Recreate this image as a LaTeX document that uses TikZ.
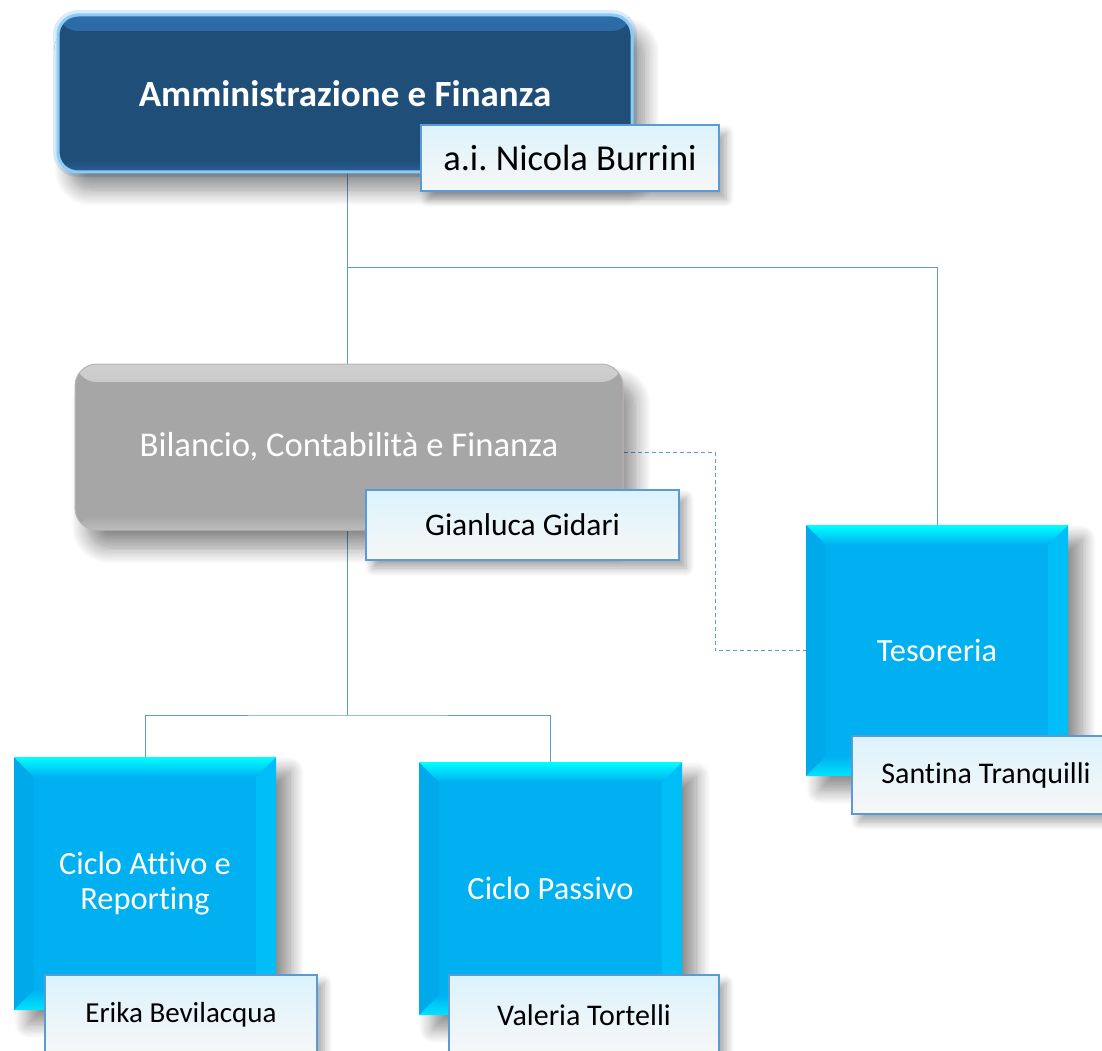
\documentclass[tikz,border=0pt]{standalone}
\usepackage{fontspec}
\setmainfont[Ligatures=NoCommon]{Carlito}
\usetikzlibrary{shadows.blur,backgrounds}
\frenchspacing
\definecolor{cNavy}{HTML}{1F4E79}
\definecolor{cNavyTop}{HTML}{2E6DAA}
\definecolor{cGlow}{HTML}{8CCBF5}
\definecolor{cGray}{HTML}{A6A6A6}
\definecolor{cGrayTop}{HTML}{CFCFCF}
\definecolor{cGrayBot}{HTML}{BDBDBD}
\definecolor{cGrayLine}{HTML}{BDB3B3}
\definecolor{cBlue}{HTML}{00B0F0}
\definecolor{cCyan}{HTML}{00FFFF}
\definecolor{cBlueL}{HTML}{00A9EA}
\definecolor{cBlueR}{HTML}{00BEF8}
\definecolor{cBlueB}{HTML}{00E4FF}
\definecolor{cConn}{HTML}{5B9BD5}
\definecolor{cNameTop}{HTML}{DCF3FC}
\definecolor{cNameBot}{HTML}{F7F7F7}
\begin{document}
\begin{tikzpicture}[x=1pt,y=-1pt,
  conn/.style={draw=cConn,line width=1pt},
  dashconn/.style={conn,dashed,dash pattern=on 4pt off 3pt},
  topbox/.style={rounded corners=20pt,draw=cGlow,line width=3pt,
    preaction={draw=cGlow,line width=10pt,opacity=0.35},
    fill=cNavy,
    path picture={
      \shade[top color=cNavyTop,bottom color=cNavy]
        (path picture bounding box.north west) rectangle ([yshift=-16pt]path picture bounding box.north east);
      \shade[top color=cNavy,bottom color=cNavyTop!60!cNavy]
        ([yshift=12pt]path picture bounding box.south west) rectangle (path picture bounding box.south east);
    },
    blur shadow={shadow xshift=12pt,shadow yshift=-18pt,shadow blur radius=16pt,shadow blur steps=12,shadow opacity=45},
    text=white,font=\fontsize{37}{44}\selectfont\bfseries},
  graybox/.style={rounded corners=22pt,draw=cGrayLine,line width=1pt,
    fill=cGray,
    path picture={
      \shade[top color=cGrayTop,bottom color=cGray]
        (path picture bounding box.north west) rectangle ([yshift=-18pt]path picture bounding box.north east);
      \shade[top color=cGray,bottom color=cGrayBot]
        ([yshift=14pt]path picture bounding box.south west) rectangle (path picture bounding box.south east);
    },
    blur shadow={shadow xshift=12pt,shadow yshift=-18pt,shadow blur radius=16pt,shadow blur steps=12,shadow opacity=45},
    text=white,font=\fontsize{34.7}{40}\selectfont},
  bluebox/.style={fill=cBlue,
    blur shadow={shadow xshift=14pt,shadow yshift=-14pt,shadow blur radius=14pt,shadow blur steps=12,shadow opacity=45},
    text=white,font=\fontsize{32.4}{35}\selectfont,align=center,
    path picture={
      \coordinate (bnw) at (path picture bounding box.north west);
      \coordinate (bne) at (path picture bounding box.north east);
      \coordinate (bsw) at (path picture bounding box.south west);
      \coordinate (bse) at (path picture bounding box.south east);
      \fill[cBlueL] (bnw) -- ([xshift=20pt,yshift=-20pt]bnw) -- ([xshift=20pt,yshift=20pt]bsw) -- (bsw) -- cycle;
      \fill[cBlueR] (bne) -- ([xshift=-20pt,yshift=-20pt]bne) -- ([xshift=-20pt,yshift=20pt]bse) -- (bse) -- cycle;
      \shade[top color=cCyan,bottom color=cBlue] (bnw) -- (bne) -- ([xshift=-20pt,yshift=-20pt]bne) -- ([xshift=20pt,yshift=-20pt]bnw) -- cycle;
      \shade[top color=cBlue,bottom color=cBlueB] (bsw) -- (bse) -- ([xshift=-20pt,yshift=20pt]bse) -- ([xshift=20pt,yshift=20pt]bsw) -- cycle;
    }},
  namebox/.style={draw=cConn,line width=1.6pt,top color=cNameTop,bottom color=cNameBot,
    blur shadow={shadow xshift=7pt,shadow yshift=-8pt,shadow blur radius=8pt,shadow blur steps=8,shadow opacity=35},
    text=black,font=\fontsize{30}{36}\selectfont}
]
\useasboundingbox (0,0) rectangle (1102,1051);

% main boxes
\node[topbox,minimum width=574pt,minimum height=157pt] (amm) at (345,93.5) {Amministrazione e Finanza};
\node[namebox,minimum width=298pt,minimum height=66pt,font=\fontsize{36.5}{42}\selectfont] (n1) at (570,158) {a.i. Nicola Burrini};

\node[graybox,minimum width=548pt,minimum height=166pt] (bil) at (349,447) {\raisebox{3pt}{Bilancio, Contabilità e Finanza}};
\node[namebox,minimum width=313pt,minimum height=70pt,font=\fontsize{31.5}{36}\selectfont] (n2) at (522.5,525) {Gianluca Gidari};

\node[bluebox,minimum width=262pt,minimum height=251pt] (tes) at (937,650.5) {Tesoreria};
\node[namebox,minimum width=268pt,minimum height=78pt] (n3) at (986,775) {Santina Tranquilli};

\node[bluebox,minimum width=262pt,minimum height=253pt] (ca) at (145,883.5) {Ciclo Attivo e\\Reporting};
\node[namebox,minimum width=272pt,minimum height=80pt,font=\fontsize{29}{34}\selectfont] (n4) at (181,1015) {Erika Bevilacqua};

\node[bluebox,minimum width=263pt,minimum height=253pt] (cp) at (550.5,888.5) {Ciclo Passivo};
\node[namebox,minimum width=270pt,minimum height=80pt] (n5) at (584,1015) {Valeria Tortelli};

% connectors
\coordinate (j1) at (347,267);
\coordinate (j2) at (347,715);
\coordinate (d1) at (715,452);
\begin{scope}[on background layer]
  \draw[conn] (amm.south -| j1) -- (bil.north -| j1);
  \draw[conn] (j1) -| (tes.north);
  \draw[conn] (bil.south -| j2) -- (j2);
  \draw[conn] (ca.north) |- (j2) -| (cp.north);
  \draw[dashconn] (bil.east |- d1) -- (d1) |- (tes.west);
\end{scope}
\end{tikzpicture}
\end{document}
